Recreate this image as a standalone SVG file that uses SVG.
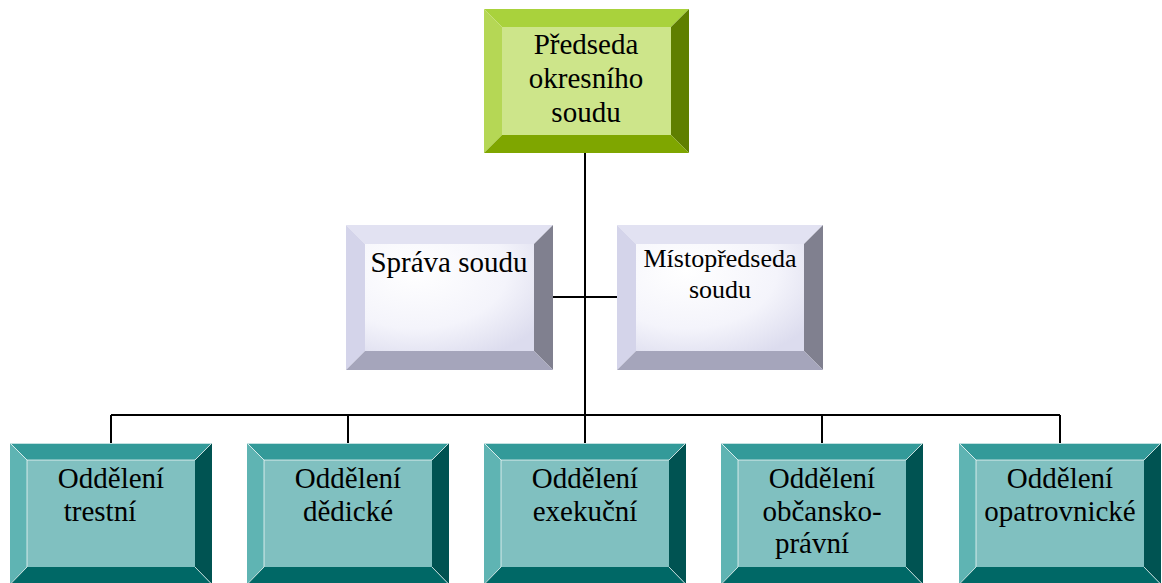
<svg xmlns="http://www.w3.org/2000/svg" width="1162" height="583" viewBox="0 0 1162 583">
<defs>
<style>
.t{font-size:29px;fill:#000;text-anchor:middle}
.s{font-size:26px}
.c{stroke:#000;stroke-width:2;fill:none}
.g1{fill:#a9d23c}.g2{fill:#b5d755}.g3{fill:#5f7f00}.g4{fill:#7fa600}.g5{fill:#cde58a}
.l1{fill:#e2e2f2}.l2{fill:#d4d4ea}.l3{fill:#80808f}.l4{fill:#a5a5bb}
.b1{fill:#339a99}.b2{fill:#5fb4b3}.b3{fill:#005352}.b4{fill:#006866}.b5{fill:#80c0c0}
.e{stroke:#ffffff;stroke-opacity:0.7;stroke-width:1;fill:none}
</style>
<radialGradient id="lg" cx="0.3" cy="0.25" r="0.9">
<stop offset="0" stop-color="#ffffff"/><stop offset="0.6" stop-color="#f4f4fb"/><stop offset="1" stop-color="#dcdcee"/>
</radialGradient>
<g id="bx">
<polygon class="b1" points="0,443 202,443 185,460 17,460"/>
<polygon class="b2" points="0,443 17,460 17,567 0,584"/>
<polygon class="b3" points="202,443 202,584 185,567 185,460"/>
<polygon class="b4" points="0,584 17,567 185,567 202,584"/>
<rect class="b5" x="17" y="460" width="168" height="107"/>
<path class="e" d="M0.5,443.5H201.5L185,460H17ZM17,460V567L0.5,584M185,567L201.5,584"/>
</g>
</defs>
<rect width="1162" height="583" fill="#fff"/>
<g id="connectors">
<path class="c" d="M585 153V415M111 415H1060M111 415V443M348 415V443M585 415V443M822 415V443M1060 415V443M553 297H617"/>
</g>
<g font-family="'Liberation Serif','Times New Roman','DejaVu Serif',serif">
<g id="node-predseda">
<polygon class="g1" points="484,9 689,9 671,27 502,27"/>
<polygon class="g2" points="484,9 502,27 502,135 484,153"/>
<polygon class="g3" points="689,9 689,153 671,135 671,27"/>
<polygon class="g4" points="484,153 502,135 671,135 689,153"/>
<rect class="g5" x="502" y="27" width="169" height="108"/>
<text class="t" x="586" y="54">Předseda</text>
<text class="t" x="586" y="88">okresního</text>
<text class="t" x="586" y="122">soudu</text>
</g>
<g id="node-sprava">
<polygon class="l1" points="346,225 553,225 534,244 365,244"/>
<polygon class="l2" points="346,225 365,244 365,351 346,370"/>
<polygon class="l3" points="553,225 553,370 534,351 534,244"/>
<polygon class="l4" points="346,370 365,351 534,351 553,370"/>
<rect fill="url(#lg)" x="365" y="244" width="169" height="107"/>
<text class="t" x="449" y="272">Správa soudu</text>
</g>
<g id="node-mistopredseda">
<polygon class="l1" points="617,225 823,225 804,244 636,244"/>
<polygon class="l2" points="617,225 636,244 636,351 617,370"/>
<polygon class="l3" points="823,225 823,370 804,351 804,244"/>
<polygon class="l4" points="617,370 636,351 804,351 823,370"/>
<rect fill="url(#lg)" x="636" y="244" width="168" height="107"/>
<text class="t s" x="720" y="267">Místopředseda</text>
<text class="t s" x="720" y="298">soudu</text>
</g>
<g id="node-trestni" transform="translate(10,0)">
<use href="#bx"/>
<text class="t" x="101" y="488">Oddělení</text>
<text class="t" x="90" y="521">trestní</text>
</g>
<g id="node-dedicke" transform="translate(247,0)">
<use href="#bx"/>
<text class="t" x="101" y="488">Oddělení</text>
<text class="t" x="101" y="521">dědické</text>
</g>
<g id="node-exekucni" transform="translate(484,0)">
<use href="#bx"/>
<text class="t" x="101" y="488">Oddělení</text>
<text class="t" x="101" y="521">exekuční</text>
</g>
<g id="node-obcansko" transform="translate(721,0)">
<use href="#bx"/>
<text class="t" x="101" y="488">Oddělení</text>
<text class="t" x="101" y="521">občansko-</text>
<text class="t" x="91" y="553">právní</text>
</g>
<g id="node-opatrovnicke" transform="translate(959,0)">
<use href="#bx"/>
<text class="t" x="101" y="488">Oddělení</text>
<text class="t" x="101" y="521">opatrovnické</text>
</g>
</g>
</svg>
